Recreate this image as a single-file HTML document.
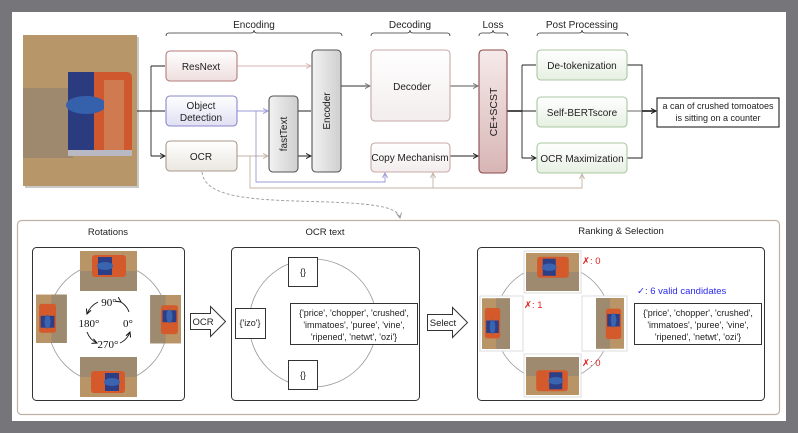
<!DOCTYPE html>
<html><head><meta charset="utf-8"><style>
html,body{margin:0;padding:0;background:#76757a;}
svg{display:block;font-family:"Liberation Sans",sans-serif;}
</style></head><body>
<svg width="798" height="433" viewBox="0 0 798 433" xmlns="http://www.w3.org/2000/svg">
<defs>
<linearGradient id="gp" x1="0" y1="0" x2="0" y2="1"><stop offset="0" stop-color="#fff"/><stop offset="1" stop-color="#efdede"/></linearGradient>
<linearGradient id="gb" x1="0" y1="0" x2="0" y2="1"><stop offset="0" stop-color="#fff"/><stop offset="1" stop-color="#dfe0f3"/></linearGradient>
<linearGradient id="gw" x1="0" y1="0" x2="0" y2="1"><stop offset="0" stop-color="#fff"/><stop offset="1" stop-color="#ebe7e1"/></linearGradient>
<linearGradient id="gg" x1="0" y1="0" x2="1" y2="0"><stop offset="0" stop-color="#f2f2f2"/><stop offset="1" stop-color="#cfcfcf"/></linearGradient>
<linearGradient id="gd" x1="0" y1="0" x2="0" y2="1"><stop offset="0" stop-color="#fff"/><stop offset="1" stop-color="#f3eded"/></linearGradient>
<linearGradient id="gc" x1="0" y1="0" x2="0" y2="1"><stop offset="0" stop-color="#f6eaea"/><stop offset="1" stop-color="#d8b5b5"/></linearGradient>
<linearGradient id="gn" x1="0" y1="0" x2="0" y2="1"><stop offset="0" stop-color="#fff"/><stop offset="1" stop-color="#e6f0e2"/></linearGradient>
<marker id="ar" markerWidth="6" markerHeight="6" refX="5" refY="3" orient="auto" markerUnits="userSpaceOnUse"><path d="M0,0.5 L5,3 L0,5.5" fill="none" stroke="context-stroke" stroke-width="1"/></marker>
<g id="can">
<rect x="0" y="0" width="57" height="40" fill="#b89467"/>
<rect x="0" y="20" width="57" height="20" fill="#9e8a6e"/>
<rect x="12" y="4" width="34" height="22" rx="3" fill="#d45a2c"/>
<rect x="18" y="6" width="14" height="18" fill="#2c3f86"/>
<ellipse cx="25" cy="15" rx="8" ry="4" fill="#3a63b0"/>
</g>
</defs>
<rect x="12" y="12" width="774" height="409" fill="#fff"/>

<rect x="25" y="37" width="114" height="151" fill="#c9c9c9"/>
<rect x="23" y="35" width="114" height="151" fill="#b7966a"/>
<rect x="23" y="88" width="50" height="70" fill="#9e896f"/>
<rect x="68" y="72" width="64" height="84" rx="5" fill="#d0582e"/>
<rect x="68" y="72" width="26" height="84" fill="#2b3b80"/>
<ellipse cx="86" cy="105" rx="20" ry="9" fill="#3560ac"/>
<rect x="104" y="80" width="20" height="70" fill="#cf7a50"/>
<rect x="68" y="150" width="64" height="6" fill="#b9b9c4"/>

<g fill="none" stroke="#333" stroke-width="0.8">
<path d="M166,36 Q166,33 169,33 L251,33 Q254,33 254,30 Q254,33 257,33 L339,33 Q342,33 342,36"/>
<path d="M371,36 Q371,33 374,33 L407,33 Q410,33 410,30 Q410,33 413,33 L447,33 Q450,33 450,36"/>
<path d="M479,36 Q479,33 482,33 L490,33 Q493,33 493,30 Q493,33 496,33 L505,33 Q508,33 508,36"/>
<path d="M537,36 Q537,33 540,33 L579,33 Q582,33 582,30 Q582,33 585,33 L625,33 Q628,33 628,36"/>
</g>
<g font-size="10" fill="#222" text-anchor="middle">
<text x="254" y="28">Encoding</text>
<text x="410" y="28">Decoding</text>
<text x="493" y="28">Loss</text>
<text x="582" y="28">Post Processing</text>
</g>

<g fill="none" stroke-width="0.9">
<path d="M137,111 H151 M151,66 V156" stroke="#222"/>
<path d="M151,66 H165 M151,111 H165 M151,156 H165" stroke="#222" marker-end="url(#ar)"/>
<path d="M237,66 H311" stroke="#d9b5b5" marker-end="url(#ar)"/>
<path d="M237,111 H268" stroke="#9a9ad8" marker-end="url(#ar)"/>
<path d="M237,156 H268" stroke="#c4b4a4" marker-end="url(#ar)"/>
<path d="M298,111 H311 M298,156 H311" stroke="#222" marker-end="url(#ar)"/>
<path d="M341,86 H370" stroke="#777" stroke-width="1.4" marker-end="url(#ar)"/>
<path d="M450,86 H478" stroke="#777" stroke-width="1.2" marker-end="url(#ar)"/>
<path d="M450,156 H478" stroke="#222" marker-end="url(#ar)"/>
<path d="M507,111 H522" stroke="#222" stroke-width="1.6"/>
<path d="M522,65 V158" stroke="#222"/>
<path d="M522,65 H536 M522,111 H536 M522,158 H536" stroke="#222" marker-end="url(#ar)"/>
<path d="M627,65 H642 V158 H627" stroke="#222"/>
<path d="M627,111 H656" stroke="#888" stroke-width="1.2" marker-end="url(#ar)"/>
<path d="M642,111 H656" stroke="#222" stroke-width="1.6" marker-end="url(#ar)"/>
<path d="M256,111 V182 H385 V173" stroke="#9a9ad8" marker-end="url(#ar)"/>
<path d="M250,156 V188 H582 V174" stroke="#c4b4a4" marker-end="url(#ar)"/>
<path d="M433,188 V173" stroke="#c4b4a4" marker-end="url(#ar)"/>
<path d="M202,172 C205,200 260,200 330,202 C380,204 398,208 400,218" stroke="#999" stroke-dasharray="3,2" marker-end="url(#ar)"/>
</g>

<g stroke-width="1.1">
<rect x="166" y="51" width="71" height="30" rx="4" fill="url(#gp)" stroke="#b47c7c"/>
<rect x="166" y="96" width="71" height="30" rx="4" fill="url(#gb)" stroke="#8888cc"/>
<rect x="166" y="141" width="71" height="30" rx="4" fill="url(#gw)" stroke="#a99a8a"/>
<rect x="269" y="96" width="29" height="76" rx="4" fill="url(#gg)" stroke="#555"/>
<rect x="312" y="50" width="29" height="122" rx="4" fill="url(#gg)" stroke="#555"/>
<rect x="371" y="50" width="79" height="71" rx="4" fill="url(#gd)" stroke="#c8a8a8"/>
<rect x="371" y="143" width="79" height="29" rx="4" fill="url(#gd)" stroke="#c8a8a8"/>
<rect x="479" y="50" width="28" height="123" rx="4" fill="url(#gc)" stroke="#8a4a4a"/>
<rect x="537" y="50" width="90" height="30" rx="4" fill="url(#gn)" stroke="#a8c8a0"/>
<rect x="537" y="97" width="90" height="30" rx="4" fill="url(#gn)" stroke="#a8c8a0"/>
<rect x="537" y="143" width="90" height="30" rx="4" fill="url(#gn)" stroke="#a8c8a0"/>
<rect x="657" y="98" width="122" height="29" fill="#fff" stroke="#222"/>
</g>
<g font-size="10" fill="#222" text-anchor="middle">
<text x="201" y="70">ResNext</text>
<text x="201" y="109">Object</text>
<text x="201" y="121">Detection</text>
<text x="201" y="160">OCR</text>
<text transform="translate(287,134) rotate(-90)">fastText</text>
<text transform="translate(330,111) rotate(-90)">Encoder</text>
<text x="412" y="90">Decoder</text>
<text x="410" y="161">Copy Mechanism</text>
<text transform="translate(497,112) rotate(-90)" font-size="10.5">CE+SCST</text>
<text x="582" y="69">De-tokenization</text>
<text x="582" y="116">Self-BERTscore</text>
<text x="582" y="162">OCR Maximization</text>
<text x="718" y="109" font-size="9">a can of crushed tomoatoes</text>
<text x="718" y="121" font-size="9">is sitting on a counter</text>
</g>

<rect x="17.5" y="220.5" width="762" height="194" rx="4" fill="#fff" stroke="#bfb2a5" stroke-width="1.2"/>
<g font-size="9.5" fill="#222" text-anchor="middle">
<text x="108" y="235">Rotations</text>
<text x="325" y="235">OCR text</text>
<text x="621" y="234">Ranking &amp; Selection</text>
</g>
<rect x="32.5" y="247.5" width="152" height="153" rx="4" fill="#fff" stroke="#333"/>
<rect x="231.5" y="247.5" width="188" height="153" rx="4" fill="#fff" stroke="#333"/>
<rect x="477.5" y="247.5" width="287" height="153" rx="4" fill="#fff" stroke="#333"/>
<g fill="none" stroke="#999" stroke-width="0.8">
<circle cx="108" cy="323" r="60"/>
<circle cx="313" cy="323" r="64"/>
<circle cx="553" cy="323" r="58"/>
</g>
<use href="#can" x="80" y="251"/>
<use href="#can" transform="translate(137,397) rotate(180)"/>
<use href="#can" transform="translate(36,343) rotate(-90) scale(0.85,0.77)"/>
<use href="#can" transform="translate(181,295) rotate(90) scale(0.85,0.77)"/>
<g font-family="Liberation Serif,serif" font-size="11" fill="#111" text-anchor="middle">
<text x="109" y="306">90°</text>
<text x="89" y="327">180°</text>
<text x="128" y="327">0°</text>
<text x="108" y="348">270°</text>
</g>
<g fill="none" stroke="#111" stroke-width="0.9">
<path d="M98,302 Q90,306 87,314" marker-end="url(#ar)"/>
<path d="M121,302 Q127,306 129,312" marker-start="url(#ar)"/>
<path d="M87,332 Q90,340 97,343" marker-end="url(#ar)"/>
<path d="M120,343 Q127,340 130,332" marker-end="url(#ar)"/>
</g>
<path d="M190.5,313.5 H210.5 V306.5 L225.5,321.5 L210.5,336.5 V329.5 H190.5 Z" fill="#fff" stroke="#333"/>
<text x="203" y="325" font-size="9.5" text-anchor="middle" fill="#222">OCR</text>
<path d="M427.5,314.5 H452.5 V307.5 L467.5,322.5 L452.5,337.5 V330.5 H427.5 Z" fill="#fff" stroke="#333"/>
<text x="443" y="326" font-size="9.5" text-anchor="middle" fill="#222">Select</text>
<g fill="#fff" stroke="#333">
<rect x="288.5" y="257.5" width="29" height="29"/>
<rect x="288.5" y="360.5" width="29" height="29"/>
<rect x="235.5" y="308.5" width="30" height="30"/>
<rect x="290.5" y="303.5" width="127" height="41"/>
<rect x="634.5" y="303.5" width="127" height="41"/>
</g>
<g font-size="9" fill="#222" text-anchor="middle">
<text x="303" y="275">{}</text>
<text x="303" y="378">{}</text>
<text x="250" y="326">{'izo'}</text>
<text x="354" y="316">{'price', 'chopper', 'crushed',</text>
<text x="354" y="328">'immatoes', 'puree', 'vine',</text>
<text x="354" y="340">'ripened', 'netwt', 'ozi'}</text>
<text x="698" y="316">{'price', 'chopper', 'crushed',</text>
<text x="698" y="328">'immatoes', 'puree', 'vine',</text>
<text x="698" y="340">'ripened', 'netwt', 'ozi'}</text>
</g>
<g fill="#fff" stroke="#ddd">
<rect x="524" y="251" width="57" height="42"/>
<rect x="524" y="354" width="57" height="43"/>
<rect x="480" y="296" width="43" height="55"/>
<rect x="582" y="296" width="45" height="55"/>
</g>
<use href="#can" transform="translate(526,253) scale(0.93,0.95)"/>
<use href="#can" transform="translate(579,395) rotate(180) scale(0.93,0.95)"/>
<use href="#can" transform="translate(482,349) rotate(-90) scale(0.89,0.7)"/>
<use href="#can" transform="translate(624,298) rotate(90) scale(0.89,0.7)"/>
<g font-size="9.5" fill="#e02020">
<text x="582" y="264">✗: 0</text>
<text x="524" y="308">✗: 1</text>
<text x="582" y="366">✗: 0</text>
</g>
<text x="637" y="294" font-size="9.5" fill="#2a2aee">✓: 6 valid candidates</text>
</svg>
</body></html>
